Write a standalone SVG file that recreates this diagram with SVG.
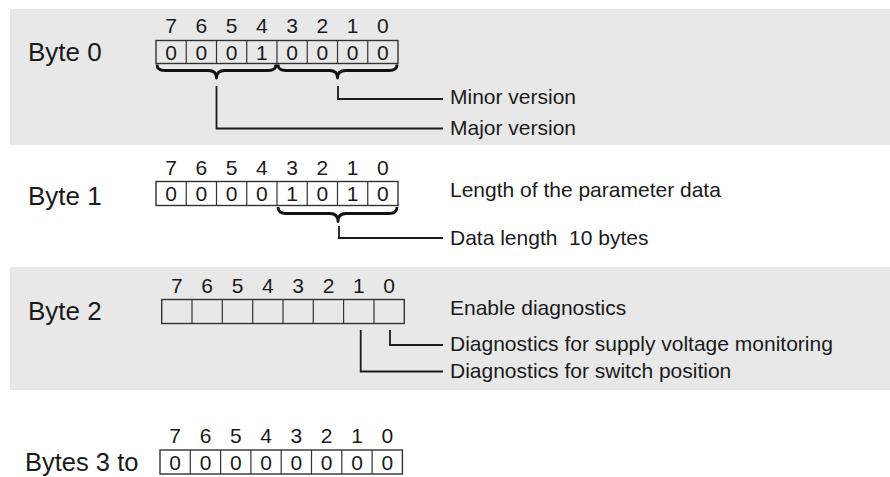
<svg xmlns="http://www.w3.org/2000/svg" width="890" height="477" viewBox="0 0 890 477">
<style>
.band{fill:#e8e8e8}
.lbl{font-family:"Liberation Sans",Arial,sans-serif;font-size:26px;fill:#1a1a1a}
.txt{font-family:"Liberation Sans",Arial,sans-serif;font-size:21px;fill:#1a1a1a}
.dg{font-family:"Liberation Sans",Arial,sans-serif;font-size:21px;fill:#1a1a1a;text-anchor:middle}
.box{fill:none;stroke:#333;stroke-width:1.4}
.cell{stroke:#333;stroke-width:1.2}
.brace{fill:none;stroke:#111;stroke-width:2.8;stroke-linejoin:round}
.ln{fill:none;stroke:#1a1a1a;stroke-width:1.8}
</style>
<rect class="band" x="10" y="9" width="880" height="136"/>
<rect class="band" x="10" y="267" width="880" height="123"/>

<g id="byte0">
<text class="lbl" x="28" y="61">Byte 0</text>
<g class="dg">
<text x="171.1" y="33">7</text><text x="201.4" y="33">6</text><text x="231.6" y="33">5</text><text x="261.9" y="33">4</text><text x="292.1" y="33">3</text><text x="322.4" y="33">2</text><text x="352.6" y="33">1</text><text x="382.9" y="33">0</text>
<text x="171.1" y="59.5">0</text><text x="201.4" y="59.5">0</text><text x="231.6" y="59.5">0</text><text x="261.9" y="59.5">1</text><text x="292.1" y="59.5">0</text><text x="322.4" y="59.5">0</text><text x="352.6" y="59.5">0</text><text x="382.9" y="59.5">0</text>
</g>
<rect class="box" x="156" y="40.5" width="242" height="23"/>
<path class="cell" d="M186.25 40.5V63.5M216.5 40.5V63.5M246.75 40.5V63.5M277 40.5V63.5M307.25 40.5V63.5M337.5 40.5V63.5M367.75 40.5V63.5"/>
<path class="brace" d="M157 64.5Q157 70.5 165 70.5L208.5 70.5Q216.5 70.5 216.5 78Q216.5 70.5 224.5 70.5L268 70.5Q276 70.5 276 64.5"/>
<path class="brace" d="M278 64.5Q278 70.5 286 70.5L329.5 70.5Q337.5 70.5 337.5 78Q337.5 70.5 345.5 70.5L389 70.5Q397 70.5 397 64.5"/>
<text class="txt" x="450" y="104">Minor version</text>
<text class="txt" x="450" y="135">Major version</text>
</g>

<g id="byte1">
<text class="lbl" x="28" y="205">Byte 1</text>
<g class="dg">
<text x="171.1" y="175">7</text><text x="201.4" y="175">6</text><text x="231.6" y="175">5</text><text x="261.9" y="175">4</text><text x="292.1" y="175">3</text><text x="322.4" y="175">2</text><text x="352.6" y="175">1</text><text x="382.9" y="175">0</text>
<text x="171.1" y="201">0</text><text x="201.4" y="201">0</text><text x="231.6" y="201">0</text><text x="261.9" y="201">0</text><text x="292.1" y="201">1</text><text x="322.4" y="201">0</text><text x="352.6" y="201">1</text><text x="382.9" y="201">0</text>
</g>
<rect class="box" x="156" y="181.5" width="242" height="24"/>
<path class="cell" d="M186.25 181.5V205.5M216.5 181.5V205.5M246.75 181.5V205.5M277 181.5V205.5M307.25 181.5V205.5M337.5 181.5V205.5M367.75 181.5V205.5"/>
<path class="brace" d="M278 207Q278 213.5 286 213.5L330 213.5Q338 213.5 338 221.5Q338 213.5 346 213.5L389 213.5Q397 213.5 397 207"/>
<text class="txt" x="450" y="197">Length of the parameter data</text>
<text class="txt" x="450" y="245" xml:space="preserve">Data length  10 bytes</text>
</g>

<g id="byte2">
<text class="lbl" x="28" y="320">Byte 2</text>
<g class="dg">
<text x="176.9" y="293">7</text><text x="207.2" y="293">6</text><text x="237.5" y="293">5</text><text x="267.8" y="293">4</text><text x="298.2" y="293">3</text><text x="328.5" y="293">2</text><text x="358.8" y="293">1</text><text x="389.1" y="293">0</text>
</g>
<rect class="box" x="161.7" y="299.5" width="242.6" height="24"/>
<path class="cell" d="M192 299.5V323.5M222.3 299.5V323.5M252.7 299.5V323.5M283 299.5V323.5M313.3 299.5V323.5M343.6 299.5V323.5M374 299.5V323.5"/>
<text class="txt" x="450" y="315">Enable diagnostics</text>
<text class="txt" x="450" y="351">Diagnostics for supply voltage monitoring</text>
<text class="txt" x="450" y="378">Diagnostics for switch position</text>
</g>

<g id="byte3">
<text class="lbl" x="25" y="471" style="font-size:25.5px">Bytes 3 to</text>
<g class="dg">
<text x="175.2" y="443">7</text><text x="205.5" y="443">6</text><text x="235.8" y="443">5</text><text x="266.1" y="443">4</text><text x="296.4" y="443">3</text><text x="326.7" y="443">2</text><text x="357" y="443">1</text><text x="387.3" y="443">0</text>
<text x="175.2" y="469.5">0</text><text x="205.5" y="469.5">0</text><text x="235.8" y="469.5">0</text><text x="266.1" y="469.5">0</text><text x="296.4" y="469.5">0</text><text x="326.7" y="469.5">0</text><text x="357" y="469.5">0</text><text x="387.3" y="469.5">0</text>
</g>
<rect class="box" x="160" y="450" width="242.4" height="24"/>
<path class="cell" d="M190.3 450V474M220.6 450V474M250.9 450V474M281.2 450V474M311.5 450V474M341.8 450V474M372.1 450V474"/>
</g>

<g id="connectors">
<path class="ln" d="M216.5 86V128.5H443"/>
<path class="ln" d="M338 86V99H443"/>
<path class="ln" d="M339 226V238H443"/>
<path class="ln" d="M390 330V345H443"/>
<path class="ln" d="M360.7 330V371.5H443"/>
</g>
</svg>
